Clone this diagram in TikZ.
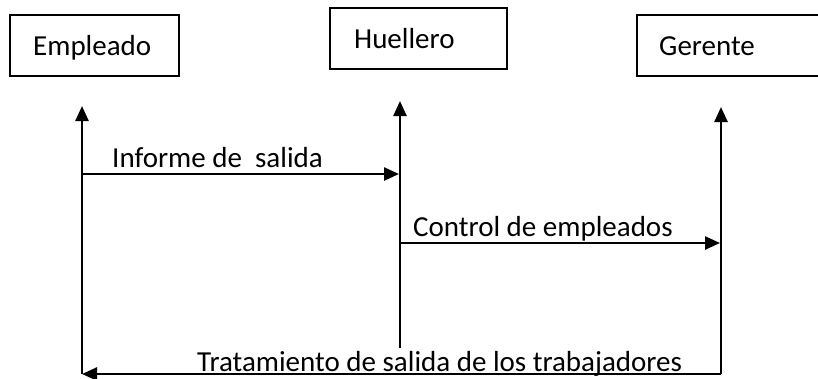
\documentclass[tikz,border=0pt]{standalone}
\usepackage{fontspec}
\setmainfont{Carlito}
\usetikzlibrary{arrows.meta}
\begin{document}
\begin{tikzpicture}[x=1pt,y=-1pt,
  box/.style={draw,line width=2pt},
  lbl/.style={anchor=base west,inner sep=0pt,font=\fontsize{29}{34}\selectfont},
  flow/.style={line width=2.5pt,-{Triangle[length=15pt,width=13pt]}}]
\useasboundingbox (0,0) rectangle (818,378);
\clip (0,0) rectangle (818,378);
% boxes
\draw[box] (10,15) rectangle (179,76);
\node[lbl] (templ) at (33,55) {Empleado};
\draw[box] (330,8) rectangle (507,69);
\node[lbl] (thue) at (354,48) {Huellero};
\draw[box] (830,15) -- (637,15) -- (637,76) -- (830,76);
\node[lbl] (tger) at (659,55) {Gerente};
% lifelines
\coordinate (lb) at (82,374);
\coordinate (lt) at (82,106);
\coordinate (mb) at (400,348);
\coordinate (mt) at (400,101);
\coordinate (rb) at (721,374);
\coordinate (rt) at (721,107);
\draw[flow] (lb) -- (lt);
\draw[flow] (mb) -- (mt);
\draw[flow] (rb) -- (rt);
% messages
\coordinate (m1a) at (82,174);
\coordinate (m1b) at (399,174);
\draw[flow] (m1a) -- (m1b);
\node[lbl] (t1) at (112,167) {Informe de\ \ salida};
\coordinate (m2a) at (400,243);
\coordinate (m2b) at (720,243);
\draw[flow] (m2a) -- (m2b);
\node[lbl] (t2) at (413,236) {Control de empleados};
\coordinate (m3b) at (82,374);
\draw[flow] (rb) -- (m3b);
\node[lbl] (t3) at (197,371) {Tratamiento de salida de los trabajadores};
\end{tikzpicture}
\end{document}
